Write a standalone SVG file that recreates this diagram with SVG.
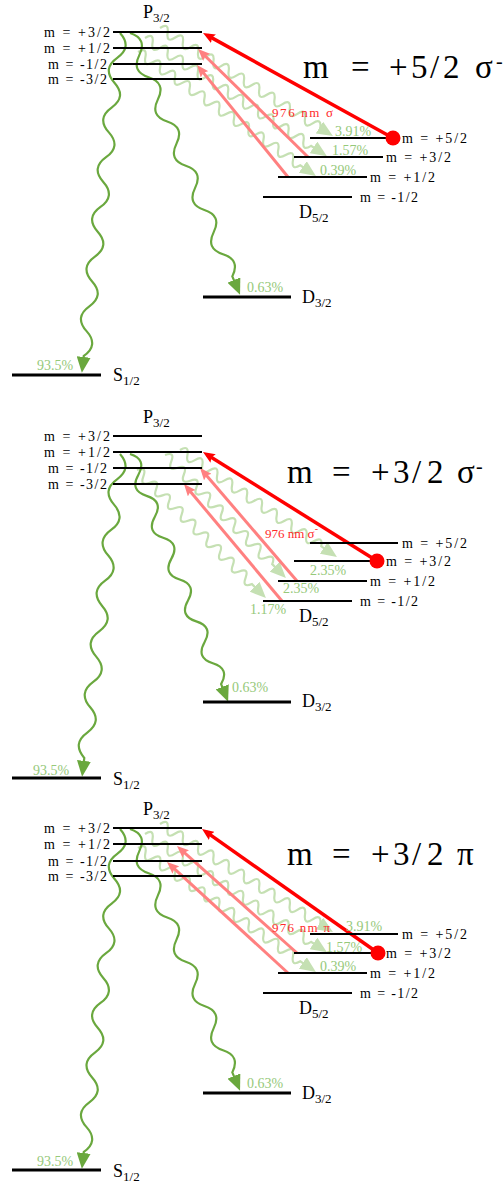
<svg xmlns="http://www.w3.org/2000/svg" width="504" height="1186" viewBox="0 0 504 1186" font-family="'Liberation Serif', 'DejaVu Serif', serif">
<style>
.lvl{stroke:#000;stroke-width:2}
.lvlb{stroke:#000;stroke-width:3}
.t{fill:#000}
.s{font-size:14px}
.big{font-size:18px}
.sub{font-size:13px}
.title{font-size:33px}
.pct{font-size:14px;fill:#96c97a}
.lab{font-size:13px;fill:#ff2a2a}
.dg{fill:none;stroke:#6aa83e;stroke-width:2.2;marker-end:url(#aDG)}
.lg{fill:none;stroke:#c5e0b3;stroke-width:2.2;marker-end:url(#aLG)}
.red{stroke:#ff0000;stroke-width:3.5;marker-end:url(#aR)}
.pink{stroke:#ff8080;stroke-width:3;marker-end:url(#aP)}
.dot{fill:#ff0000}
</style>
<defs>
<marker id="aDG" viewBox="0 0 16 14" markerWidth="16" markerHeight="14" refX="12" refY="7" orient="auto" markerUnits="userSpaceOnUse"><path d="M0,0 L16,7 L0,14 z" fill="#6aa83e"/></marker>
<marker id="aLG" viewBox="0 0 16 14" markerWidth="16" markerHeight="14" refX="12" refY="7" orient="auto" markerUnits="userSpaceOnUse"><path d="M0,0 L16,7 L0,14 z" fill="#c5e0b3"/></marker>
<marker id="aR" viewBox="0 0 12 10" markerWidth="12" markerHeight="10" refX="7" refY="5" orient="auto" markerUnits="userSpaceOnUse"><path d="M0,0 L12,5 L0,10 L2,5 z" fill="#ff0000"/></marker>
<marker id="aP" viewBox="0 0 12 10" markerWidth="12" markerHeight="10" refX="7" refY="5" orient="auto" markerUnits="userSpaceOnUse"><path d="M0,0 L12,5 L0,10 L2,5 z" fill="#ff8080"/></marker>
</defs>

<!-- ================= PANEL 1 ================= -->
<g id="panel1">
<g id="p1-connectors">
<path class="lg" transform="translate(160,28) rotate(32)" d="M0,0 q4.5,-10 9,0 t9,0 t9,0 t9,0 t9,0 t9,0 t9,0 t9,0 t9,0 t9,0 t9,0 t9,0 t9,0 t9,0 t9,0 t9,0 t9,0 t9,0 t9,0 t9,0 t9,0 h10.9"/>
<path class="lg" transform="translate(145,38) rotate(33)" d="M0,0 q4.5,-10 9,0 t9,0 t9,0 t9,0 t9,0 t9,0 t9,0 t9,0 t9,0 t9,0 t9,0 t9,0 t9,0 t9,0 t9,0 t9,0 t9,0 t9,0 t9,0 t9,0 t9,0 t9,0 h14.9"/>
<path class="lg" transform="translate(138,52) rotate(34.9)" d="M0,0 q4.5,-10 9,0 t9,0 t9,0 t9,0 t9,0 t9,0 t9,0 t9,0 t9,0 t9,0 t9,0 t9,0 t9,0 t9,0 t9,0 t9,0 t9,0 t9,0 t9,0 t9,0 t9,0 t9,0 h14.9"/>
<path class="dg" transform="translate(120,33) rotate(96.4)" d="M0,0 q12.5,-14 25,0 t25,0 t25,0 t25,0 t25,0 t25,0 t25,0 t25,0 t25,0 t25,0 t25,0 t25,0 t25,0 h13"/>
<path class="dg" transform="translate(130,33) rotate(67.2)" d="M0,0 q12,-14 24,0 t24,0 t24,0 t24,0 t24,0 t24,0 t24,0 t24,0 t24,0 t24,0 t24,0 h16"/>
<line class="pink" x1="308" y1="157" x2="201.6" y2="52.5"/>
<line class="pink" x1="288" y1="177" x2="200.2" y2="68.9"/>
<line class="red" x1="393" y1="138" x2="207.4" y2="35.4"/>
<text class="lab" x="272" y="117" textLength="61">976 nm σ</text>
<text class="pct" x="335" y="136">3.91%</text>
<text class="pct" x="332" y="155">1.57%</text>
<text class="pct" x="320" y="175">0.39%</text>
<text class="pct" x="247" y="292">0.63%</text>
<text class="pct" x="37" y="370">93.5%</text>
</g>
<g id="p1-P32">
<line class="lvl" x1="113" y1="32" x2="202" y2="32"/>
<line class="lvl" x1="113" y1="48" x2="202" y2="48"/>
<line class="lvl" x1="113" y1="64" x2="202" y2="64"/>
<line class="lvl" x1="113" y1="79" x2="202" y2="79"/>
<text class="t s" x="110" y="37" text-anchor="end" textLength="66">m = +3/2</text>
<text class="t s" x="110" y="53" text-anchor="end" textLength="66">m = +1/2</text>
<text class="t s" x="107" y="69" text-anchor="end" textLength="59">m = -1/2</text>
<text class="t s" x="107" y="84" text-anchor="end" textLength="59">m = -3/2</text>
<text class="t big" x="143" y="18">P<tspan class="sub" dy="4">3/2</tspan></text>
</g>
<g id="p1-D52">
<line class="lvl" x1="310" y1="138" x2="399" y2="138"/>
<line class="lvl" x1="294" y1="157" x2="383" y2="157"/>
<line class="lvl" x1="278" y1="177" x2="367" y2="177"/>
<line class="lvl" x1="263" y1="197" x2="352" y2="197"/>
<text class="t s" x="402" y="143" textLength="65">m = +5/2</text>
<text class="t s" x="386" y="162" textLength="65">m = +3/2</text>
<text class="t s" x="370" y="182" textLength="65">m = +1/2</text>
<text class="t s" x="360" y="202" textLength="58">m = -1/2</text>
<text class="t big" x="299" y="218">D<tspan class="sub" dy="4">5/2</tspan></text>
<circle class="dot" cx="393" cy="138" r="7.5"/>
</g>
<g id="p1-D32">
<line class="lvlb" x1="203" y1="297" x2="291" y2="297"/>
<text class="t big" x="302" y="303">D<tspan class="sub" dy="4">3/2</tspan></text>
</g>
<g id="p1-S12">
<line class="lvlb" x1="12" y1="375" x2="101" y2="375"/>
<text class="t big" x="113" y="381">S<tspan class="sub" dy="4">1/2</tspan></text>
</g>
<g id="p1-title">
<text class="t title" y="78"><tspan x="303">m</tspan><tspan x="351">=</tspan><tspan x="389">+</tspan><tspan x="411">5</tspan><tspan x="430">/</tspan><tspan x="443">2</tspan><tspan x="475">σ</tspan><tspan x="496" y="68" font-size="20">-</tspan></text>
</g>
</g>

<!-- ================= PANEL 2 ================= -->
<g id="panel2" transform="translate(0,404)">
<g id="p2-connectors">
<path class="lg" transform="translate(180,46) rotate(34.3)" d="M0,0 q4.5,-10 9,0 t9,0 t9,0 t9,0 t9,0 t9,0 t9,0 t9,0 t9,0 t9,0 t9,0 t9,0 t9,0 t9,0 t9,0 t9,0 t9,0 t9,0 t9,0 h15"/>
<path class="lg" transform="translate(165,51) rotate(45.5)" d="M0,0 q4.5,-10 9,0 t9,0 t9,0 t9,0 t9,0 t9,0 t9,0 t9,0 t9,0 t9,0 t9,0 t9,0 t9,0 t9,0 t9,0 t9,0 t9,0 h15.5"/>
<path class="lg" transform="translate(137,66) rotate(44.8)" d="M0,0 q4.5,-10 9,0 t9,0 t9,0 t9,0 t9,0 t9,0 t9,0 t9,0 t9,0 t9,0 t9,0 t9,0 t9,0 t9,0 t9,0 t9,0 t9,0 t9,0 h15.7"/>
<path class="dg" transform="translate(120,50) rotate(96.7)" d="M0,0 q12.75,-14 25.5,0 t25.5,0 t25.5,0 t25.5,0 t25.5,0 t25.5,0 t25.5,0 t25.5,0 t25.5,0 t25.5,0 t25.5,0 t25.5,0 h15"/>
<path class="dg" transform="translate(130,50) rotate(68.4)" d="M0,0 q11.25,-14 22.5,0 t22.5,0 t22.5,0 t22.5,0 t22.5,0 t22.5,0 t22.5,0 t22.5,0 t22.5,0 t22.5,0 t22.5,0 h15"/>
<line class="pink" x1="297" y1="177" x2="203.3" y2="67.8"/>
<line class="pink" x1="282" y1="197" x2="187.2" y2="83.8"/>
<line class="red" x1="377" y1="157" x2="207.2" y2="50.7"/>
<text class="lab" x="265" y="134">976 nm σ<tspan font-size="10" dy="-6">-</tspan></text>
<text class="pct" x="310" y="171">2.35%</text>
<text class="pct" x="283" y="189">2.35%</text>
<text class="pct" x="250" y="210">1.17%</text>
<text class="pct" x="232" y="288">0.63%</text>
<text class="pct" x="33" y="371">93.5%</text>
</g>
<g id="p2-P32">
<line class="lvl" x1="113" y1="32" x2="202" y2="32"/>
<line class="lvl" x1="113" y1="48" x2="202" y2="48"/>
<line class="lvl" x1="113" y1="64" x2="202" y2="64"/>
<line class="lvl" x1="113" y1="80" x2="202" y2="80"/>
<text class="t s" x="110" y="37" text-anchor="end" textLength="66">m = +3/2</text>
<text class="t s" x="110" y="53" text-anchor="end" textLength="66">m = +1/2</text>
<text class="t s" x="107" y="69" text-anchor="end" textLength="59">m = -1/2</text>
<text class="t s" x="107" y="85" text-anchor="end" textLength="59">m = -3/2</text>
<text class="t big" x="143" y="19">P<tspan class="sub" dy="4">3/2</tspan></text>
</g>
<g id="p2-D52">
<line class="lvl" x1="310" y1="139" x2="398" y2="139"/>
<line class="lvl" x1="294" y1="157" x2="383" y2="157"/>
<line class="lvl" x1="278" y1="177" x2="367" y2="177"/>
<line class="lvl" x1="263" y1="197" x2="352" y2="197"/>
<text class="t s" x="402" y="144" textLength="65">m = +5/2</text>
<text class="t s" x="386" y="162" textLength="65">m = +3/2</text>
<text class="t s" x="370" y="182" textLength="65">m = +1/2</text>
<text class="t s" x="360" y="202" textLength="58">m = -1/2</text>
<text class="t big" x="299" y="218">D<tspan class="sub" dy="4">5/2</tspan></text>
<circle class="dot" cx="377" cy="157" r="7.5"/>
</g>
<g id="p2-D32">
<line class="lvlb" x1="203" y1="298" x2="291" y2="298"/>
<text class="t big" x="302" y="303">D<tspan class="sub" dy="4">3/2</tspan></text>
</g>
<g id="p2-S12">
<line class="lvlb" x1="12" y1="374" x2="101" y2="374"/>
<text class="t big" x="113" y="381">S<tspan class="sub" dy="4">1/2</tspan></text>
</g>
<g id="p2-title">
<text class="t title" y="79"><tspan x="287">m</tspan><tspan x="332">=</tspan><tspan x="371">+</tspan><tspan x="393">3</tspan><tspan x="412">/</tspan><tspan x="427">2</tspan><tspan x="457">σ</tspan><tspan x="476" y="69" font-size="20">-</tspan></text>
</g>
</g>

<!-- ================= PANEL 3 ================= -->
<g id="panel3" transform="translate(0,796)">
<g id="p3-connectors">
<path class="lg" transform="translate(160,28) rotate(32)" d="M0,0 q4.5,-10 9,0 t9,0 t9,0 t9,0 t9,0 t9,0 t9,0 t9,0 t9,0 t9,0 t9,0 t9,0 t9,0 t9,0 t9,0 t9,0 t9,0 t9,0 t9,0 t9,0 t9,0 h10.9"/>
<path class="lg" transform="translate(145,38) rotate(33)" d="M0,0 q4.5,-10 9,0 t9,0 t9,0 t9,0 t9,0 t9,0 t9,0 t9,0 t9,0 t9,0 t9,0 t9,0 t9,0 t9,0 t9,0 t9,0 t9,0 t9,0 t9,0 t9,0 t9,0 t9,0 h14.9"/>
<path class="lg" transform="translate(138,52) rotate(34.9)" d="M0,0 q4.5,-10 9,0 t9,0 t9,0 t9,0 t9,0 t9,0 t9,0 t9,0 t9,0 t9,0 t9,0 t9,0 t9,0 t9,0 t9,0 t9,0 t9,0 t9,0 t9,0 t9,0 t9,0 t9,0 h14.9"/>
<path class="dg" transform="translate(120,33) rotate(96.4)" d="M0,0 q12.5,-14 25,0 t25,0 t25,0 t25,0 t25,0 t25,0 t25,0 t25,0 t25,0 t25,0 t25,0 t25,0 t25,0 h13"/>
<path class="dg" transform="translate(130,33) rotate(67.2)" d="M0,0 q12,-14 24,0 t24,0 t24,0 t24,0 t24,0 t24,0 t24,0 t24,0 t24,0 t24,0 t24,0 h16"/>
<line class="pink" x1="297" y1="157" x2="180.7" y2="53.3"/>
<line class="pink" x1="288" y1="177" x2="170.7" y2="69.4"/>
<line class="red" x1="378" y1="157" x2="206.1" y2="35.9"/>
<text class="lab" x="272" y="136" textLength="58">976 nm π</text>
<text class="pct" x="346" y="135">3.91%</text>
<text class="pct" x="326" y="156">1.57%</text>
<text class="pct" x="320" y="175">0.39%</text>
<text class="pct" x="247" y="292">0.63%</text>
<text class="pct" x="37" y="370">93.5%</text>
</g>
<g id="p3-P32">
<line class="lvl" x1="113" y1="32" x2="202" y2="32"/>
<line class="lvl" x1="113" y1="48" x2="202" y2="48"/>
<line class="lvl" x1="113" y1="65" x2="202" y2="65"/>
<line class="lvl" x1="113" y1="80" x2="202" y2="80"/>
<text class="t s" x="110" y="37" text-anchor="end" textLength="66">m = +3/2</text>
<text class="t s" x="110" y="53" text-anchor="end" textLength="66">m = +1/2</text>
<text class="t s" x="107" y="70" text-anchor="end" textLength="59">m = -1/2</text>
<text class="t s" x="107" y="85" text-anchor="end" textLength="59">m = -3/2</text>
<text class="t big" x="143" y="19">P<tspan class="sub" dy="4">3/2</tspan></text>
</g>
<g id="p3-D52">
<line class="lvl" x1="310" y1="138" x2="398" y2="138"/>
<line class="lvl" x1="294" y1="157" x2="383" y2="157"/>
<line class="lvl" x1="278" y1="177" x2="367" y2="177"/>
<line class="lvl" x1="263" y1="197" x2="352" y2="197"/>
<text class="t s" x="402" y="143" textLength="65">m = +5/2</text>
<text class="t s" x="386" y="162" textLength="65">m = +3/2</text>
<text class="t s" x="370" y="182" textLength="65">m = +1/2</text>
<text class="t s" x="360" y="202" textLength="58">m = -1/2</text>
<text class="t big" x="299" y="218">D<tspan class="sub" dy="4">5/2</tspan></text>
<circle class="dot" cx="378" cy="157" r="7.5"/>
</g>
<g id="p3-D32">
<line class="lvlb" x1="203" y1="297" x2="291" y2="297"/>
<text class="t big" x="302" y="303">D<tspan class="sub" dy="4">3/2</tspan></text>
</g>
<g id="p3-S12">
<line class="lvlb" x1="12" y1="374" x2="101" y2="374"/>
<text class="t big" x="113" y="381">S<tspan class="sub" dy="4">1/2</tspan></text>
</g>
<g id="p3-title">
<text class="t title" y="69"><tspan x="287">m</tspan><tspan x="332">=</tspan><tspan x="371">+</tspan><tspan x="393">3</tspan><tspan x="412">/</tspan><tspan x="427">2</tspan><tspan x="457">π</tspan></text>
</g>
</g>
</svg>
